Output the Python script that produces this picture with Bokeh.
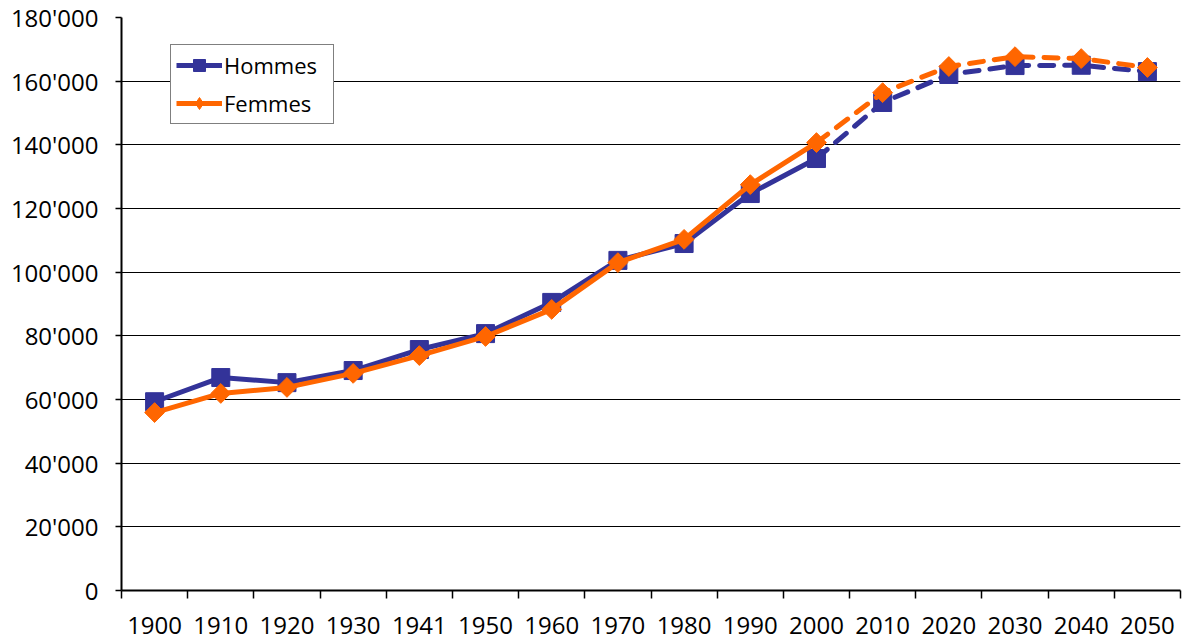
from bokeh.plotting import figure
from bokeh.embed import file_html
from bokeh.resources import INLINE
from bokeh.models import FixedTicker, CustomJSTickFormatter, Range1d

years = ["1900", "1910", "1920", "1930", "1941", "1950", "1960", "1970",
         "1980", "1990", "2000", "2010", "2020", "2030", "2040", "2050"]
hommes = [59300, 66900, 65300, 69100, 75700, 80700, 90500, 103700,
          109000, 124700, 135700, 153300, 162100, 164900, 165000, 163000]
femmes = [55900, 61900, 63800, 68200, 73800, 79800, 88300, 103000,
          110300, 127500, 140700, 156400, 164600, 167700, 167100, 164300]
split = 10  # index of 2000: observed up to here, projections dashed after
y_ticks = list(range(0, 180001, 20000))

BLUE = "#333399"
ORANGE = "#FF6600"
FONT = "Open Sans"

xs = list(range(len(years)))

p = figure(output_backend="svg", toolbar_location=None,
           frame_width=1059, frame_height=573,
           min_border_left=121, min_border_right=7,
           min_border_top=17, min_border_bottom=53,
           x_range=Range1d(-0.5, len(years) - 0.5),
           y_range=Range1d(0, 180000))
p.outline_line_color = None
p.background_fill_color = "white"
p.border_fill_color = "white"

# x axis: labels at centres, ticks between categories
xa = p.xaxis[0]
xa.ticker = FixedTicker(ticks=xs, minor_ticks=[i - 0.5 for i in range(len(years) + 1)])
xa.major_label_overrides = {i: y for i, y in enumerate(years)}
xa.major_tick_line_color = None
xa.major_tick_out = 0
xa.major_tick_in = 0
xa.minor_tick_line_color = "black"
xa.minor_tick_line_width = 1.5
xa.minor_tick_out = 8
xa.minor_tick_in = 0
xa.axis_line_color = "black"
xa.axis_line_width = 2
xa.major_label_text_font = FONT
xa.major_label_text_font_size = "24px"
xa.major_label_text_color = "black"
xa.major_label_standoff = 18

ya = p.yaxis[0]
ya.ticker = FixedTicker(ticks=y_ticks)
ya.formatter = CustomJSTickFormatter(
    code="return Math.round(tick).toString().replace(/\\B(?=(\\d{3})+(?!\\d))/g, \"'\");")
ya.major_tick_out = 6
ya.major_tick_in = 0
ya.major_tick_line_color = "black"
ya.major_tick_line_width = 1.5
ya.minor_tick_line_color = None
ya.axis_line_color = "black"
ya.axis_line_width = 2
ya.major_label_text_font = FONT
ya.major_label_text_font_size = "24px"
ya.major_label_text_color = "black"
ya.major_label_standoff = 17

p.xgrid.grid_line_color = None
p.ygrid.ticker = FixedTicker(ticks=y_ticks)
p.ygrid.grid_line_color = "black"
p.ygrid.grid_line_width = 1

# Hommes
p.line(xs[:split + 1], hommes[:split + 1], line_color=BLUE, line_width=5,
       line_join="round", legend_label="Hommes")
p.line(xs[split:], hommes[split:], line_color=BLUE, line_width=5,
       line_dash="14 11", line_cap="round", line_join="round")
p.scatter(xs, hommes, marker="square", size=18,
          fill_color=BLUE, line_color=BLUE, legend_label="Hommes")

# Femmes
p.line(xs[:split + 1], femmes[:split + 1], line_color=ORANGE, line_width=5,
       line_join="round", legend_label="Femmes")
p.line(xs[split:], femmes[split:], line_color=ORANGE, line_width=5,
       line_dash="14 11", line_cap="round", line_join="round")
p.scatter(xs, femmes, marker="diamond", size=12,
          fill_color=ORANGE, line_color=ORANGE, legend_label="Femmes")
p.scatter(xs, femmes, marker="square", size=14, angle=0.785398,
          fill_color=ORANGE, line_color=ORANGE)

lg = p.legend[0]
lg.location = (49, 466)
lg.border_line_color = "black"
lg.border_line_width = 1
lg.background_fill_color = "white"
lg.background_fill_alpha = 1
lg.label_text_font = FONT
lg.label_text_font_size = "22px"
lg.label_text_color = "black"
lg.glyph_width = 46
lg.glyph_height = 30
lg.label_standoff = 2
lg.label_width = 104
lg.spacing = 8
lg.padding = 5
lg.margin = 0

open("out.html", "w").write(file_html(p, INLINE))
